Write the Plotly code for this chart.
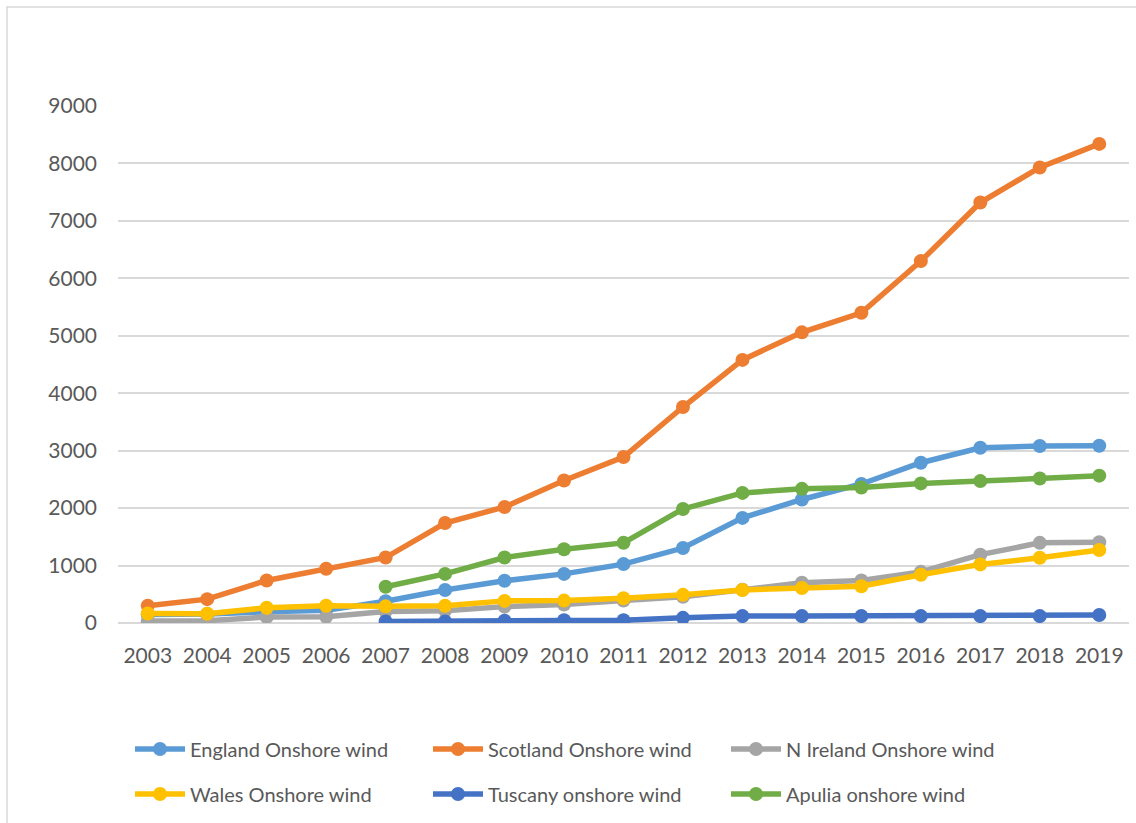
import plotly.graph_objects as go

years = [str(y) for y in range(2003, 2020)]

england = [150, 155, 195, 220, 380, 575, 735, 855, 1025, 1305, 1830, 2150, 2420, 2790, 3050, 3080, 3085]
scotland = [300, 415, 740, 945, 1140, 1740, 2020, 2480, 2890, 3760, 4580, 5060, 5400, 6300, 7320, 7930, 8340]
n_ireland = [35, 40, 105, 110, 200, 215, 285, 320, 390, 455, 580, 700, 740, 890, 1190, 1395, 1405]
wales = [165, 160, 265, 300, 290, 300, 385, 390, 430, 490, 575, 610, 640, 840, 1020, 1135, 1270]
tuscany = [None, None, None, None, 25, 28, 40, 50, 50, 90, 120, 120, 120, 120, 120, 120, 140]
apulia = [None, None, None, None, 630, 855, 1140, 1285, 1395, 1985, 2265, 2335, 2360, 2430, 2470, 2515, 2565]

series = [
    ("England Onshore wind", england, "#5B9BD5", "legend"),
    ("Scotland Onshore wind", scotland, "#ED7D31", "legend"),
    ("N Ireland Onshore wind", n_ireland, "#A5A5A5", "legend"),
    ("Wales Onshore wind", wales, "#FFC000", "legend2"),
    ("Tuscany onshore wind", tuscany, "#4472C4", "legend2"),
    ("Apulia onshore wind", apulia, "#70AD47", "legend2"),
]

FONT = "Lato"
TXT = "#595959"
GRID = "#D9D9D9"

fig = go.Figure()
for name, vals, color, leg in series:
    fig.add_trace(go.Scatter(
        x=years, y=vals, name=name, mode="lines+markers",
        line=dict(color=color, width=5.5),
        marker=dict(color=color, size=14),
        legend=leg,
    ))

W, H = 1136, 823
L, R, T, B = 118, 7, 106, 200
pw, ph = W - L - R, H - T - B

def px_x(p):
    return (p - L) / pw

def px_y(p):
    return (H - B - p) / ph

legend_common = dict(
    orientation="h", xanchor="left", yanchor="middle",
    font=dict(family=FONT, size=20, color=TXT),
    entrywidth=233, entrywidthmode="pixels",
    itemwidth=50, bgcolor="rgba(0,0,0,0)",
)

fig.update_layout(
    width=W, height=H,
    margin=dict(l=L, r=R, t=T, b=B),
    paper_bgcolor="white", plot_bgcolor="white",
    font=dict(family=FONT, size=20, color=TXT),
    showlegend=True,
    legend=dict(x=px_x(130), y=px_y(749), **legend_common),
    legend2=dict(x=px_x(130), y=px_y(794), **legend_common),
    xaxis=dict(
        type="category", range=[-0.5, 16.5], showgrid=False, showline=False,
        zeroline=False, ticks="", tickfont=dict(family=FONT, size=21, color=TXT),
        ticklabelstandoff=18,
    ),
    yaxis=dict(
        range=[0, 9000], dtick=1000, showgrid=True, gridcolor=GRID, gridwidth=1.5,
        zeroline=True, zerolinecolor=GRID, zerolinewidth=1.5, showline=False,
        ticks="", tickfont=dict(family=FONT, size=21, color=TXT),
        ticklabelstandoff=20,
    ),
    shapes=[dict(
        type="rect", xref="paper", yref="paper",
        x0=px_x(7), x1=px_x(1150), y0=px_y(840), y1=px_y(7),
        line=dict(color=GRID, width=1.5), fillcolor="rgba(0,0,0,0)", layer="below",
    )],
)

fig.write_html("out.html")
